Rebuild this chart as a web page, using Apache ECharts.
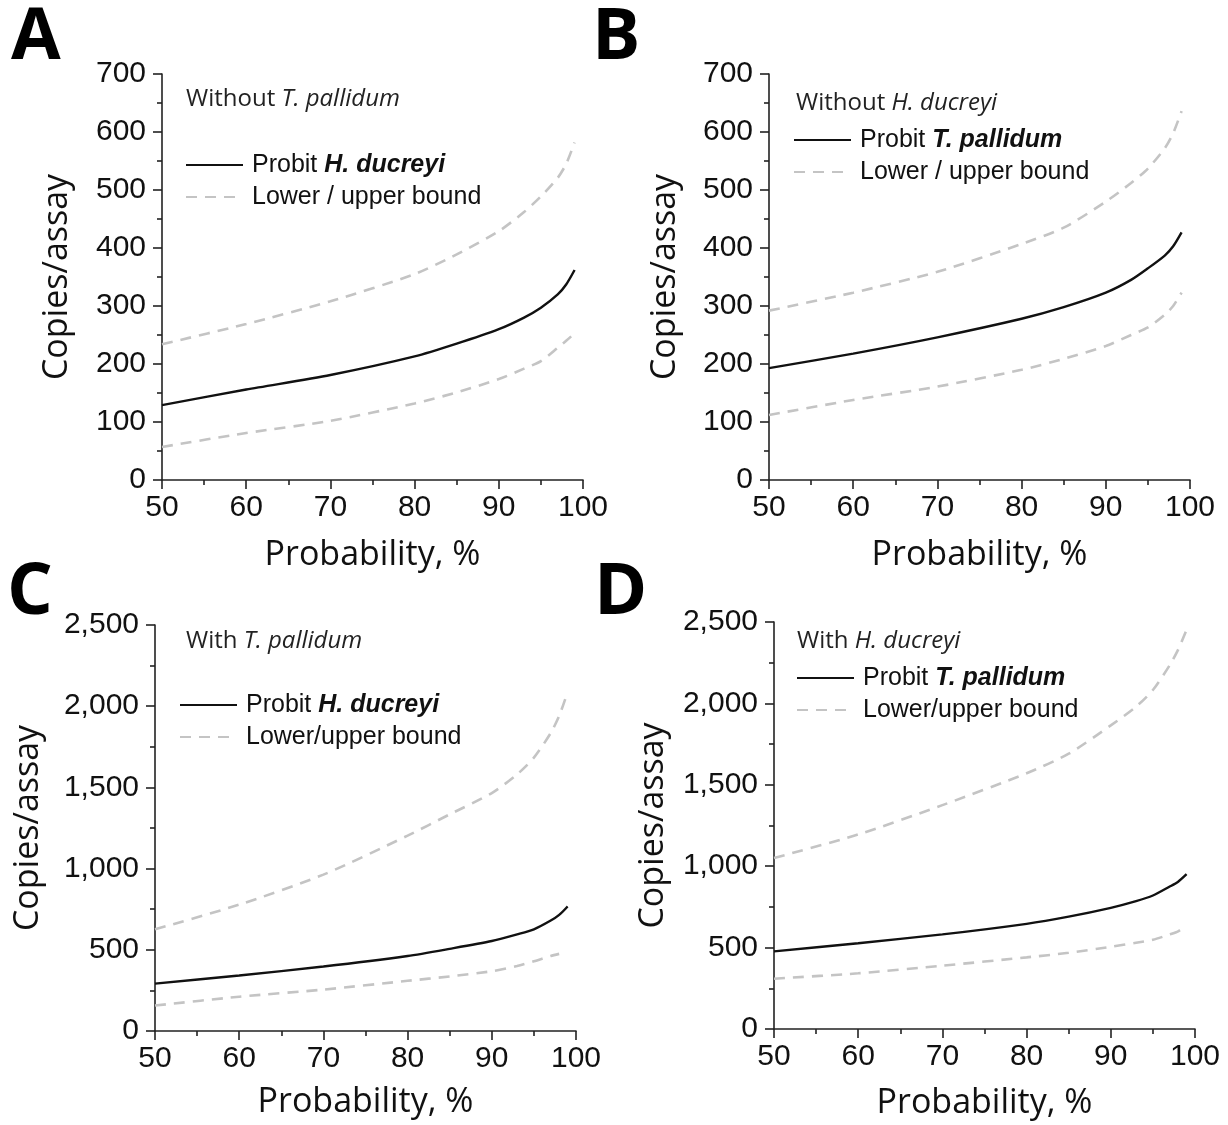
<!DOCTYPE html>
<html>
<head>
<meta charset="utf-8">
<script src="https://cdn.jsdelivr.net/npm/echarts@6/dist/echarts.min.js"></script>
<style>
	html, body { margin: 0; padding: 0; background: #fff; }
	#chart { width: 1228px; height: 1125px; }
</style>
</head>
<body>
<div id="chart"></div>
<script>
// probability (%) at which each curve was read
var probX = [50, 60, 70, 80, 85, 90, 93, 95, 97, 98, 99];

// A: H. ducreyi without T. pallidum
var probitA = [129, 156, 181, 213, 235, 260, 280, 297, 320, 337, 362];
var upperA = [234, 269, 308, 355, 389, 429, 462, 489, 521, 545, 582];
var lowerA = [57, 81, 102, 132, 151, 174, 192, 205, 228, 240, 253];

// B: T. pallidum without H. ducreyi
var probitB = [193, 218, 246, 278, 298, 323, 345, 365, 387, 403, 427];
var upperB = [292, 323, 359, 407, 435, 480, 512, 537, 572, 598, 636];
var lowerB = [112, 138, 161, 190, 209, 231, 250, 263, 285, 300, 323];

// C: H. ducreyi with T. pallidum
var probitC = [292, 342, 397, 462, 506, 554, 595, 626, 680, 715, 767];
var upperC = [626, 778, 963, 1203, 1334, 1465, 1580, 1683, 1835, 1940, 2086];
var lowerC = [157, 211, 255, 309, 336, 368, 400, 429, 462, 475];

// D: T. pallidum with H. ducreyi
var probitD = [477, 527, 581, 646, 690, 744, 785, 820, 875, 905, 951];
var upperD = [1050, 1195, 1375, 1571, 1691, 1865, 1980, 2082, 2235, 2330, 2452];
var lowerD = [309, 342, 389, 440, 468, 505, 530, 548, 581, 600, 635];

var yMaxTop = 700, yStepTop = 100;
var yMaxBottom = 2500, yStepBottom = 500;

var panelLetters = ['A', 'B', 'C', 'D'];
var notes = ['Without {i|T. pallidum}', 'Without {i|H. ducreyi}', 'With {i|T. pallidum}', 'With {i|H. ducreyi}'];
var probitNames = ['Probit H. ducreyi', 'Probit T. pallidum', 'Probit H. ducreyi', 'Probit T. pallidum'];
var boundNames = ['Lower / upper bound', 'Lower / upper bound', 'Lower/upper bound', 'Lower/upper bound'];

var myChart = echarts.init(document.getElementById('chart'));

function pairs(ys) {
	var out = [];
	for (var i = 0; i < ys.length; i++) out.push([probX[i], ys[i]]);
	return out;
}

var grids = [
	{ left: 162, right: 645, top: 74, bottom: 645 },
	{ left: 769, right: 38, top: 74, bottom: 645 },
	{ left: 155, right: 652, top: 625, bottom: 94 },
	{ left: 774, right: 33, top: 622, bottom: 96 }
];
var yNameGaps = [88, 87, 110, 104];
var xNameGaps = [58, 58, 54, 57];
var legendPos = [
	{ left: 185, top: 152 },
	{ left: 793, top: 127 },
	{ left: 179, top: 692 },
	{ left: 796, top: 665 }
];
var notePos = [[186, 101], [796, 105], [186, 643], [797, 643]];
var letterPos = [[11, 38], [592, 38], [7, 593], [594, 593]];

var axisLineStyle = { color: '#222', width: 1.6 };
var labelFont = { fontFamily: 'Liberation Sans', fontSize: 30, color: '#111' };
var nameFont = { fontFamily: 'Open Sans', fontSize: 34, color: '#111' };

var xAxes = [], yAxes = [], series = [], legends = [], graphics = [];

for (var p = 0; p < 4; p++) {
	var isTop = p < 2;
	xAxes.push({
		gridIndex: p,
		type: 'value',
		min: 50,
		max: 100,
		interval: 10,
		name: 'Probability, %',
		nameLocation: 'middle',
		nameGap: xNameGaps[p],
		nameTextStyle: nameFont,
		axisLine: { show: true, lineStyle: axisLineStyle },
		axisTick: { show: true, length: 9, lineStyle: axisLineStyle },
		minorTick: { show: true, splitNumber: 2, length: 5, lineStyle: axisLineStyle },
		splitLine: { show: false },
		axisLabel: Object.assign({ margin: 13 }, labelFont)
	});
	yAxes.push({
		gridIndex: p,
		type: 'value',
		min: 0,
		max: isTop ? yMaxTop : yMaxBottom,
		interval: isTop ? yStepTop : yStepBottom,
		name: 'Copies/assay',
		nameLocation: 'middle',
		nameGap: yNameGaps[p],
		nameTextStyle: nameFont,
		axisLine: { show: true, lineStyle: axisLineStyle },
		axisTick: { show: true, length: 9, lineStyle: axisLineStyle },
		minorTick: { show: true, splitNumber: 2, length: 5, lineStyle: axisLineStyle },
		splitLine: { show: false },
		axisLabel: Object.assign({
			margin: 16,
			formatter: function(v) { return v.toLocaleString('en-US'); }
		}, labelFont)
	});

	var probit = [probitA, probitB, probitC, probitD][p];
	var upper = [upperA, upperB, upperC, upperD][p];
	var lower = [lowerA, lowerB, lowerC, lowerD][p];

	series.push({
		name: probitNames[p],
		type: 'line',
		xAxisIndex: p,
		yAxisIndex: p,
		symbol: 'none',
		smooth: 0.25,
		data: pairs(probit),
		lineStyle: { color: '#111', width: 2.4 },
		itemStyle: { color: '#111' }
	});
	[upper, lower].forEach(function(b) {
		series.push({
			name: boundNames[p],
			type: 'line',
			xAxisIndex: p,
			yAxisIndex: p,
			symbol: 'none',
			smooth: 0.25,
			data: pairs(b),
			lineStyle: { color: '#c4c4c4', width: 2.6, type: [11, 8] },
			itemStyle: { color: '#c4c4c4' }
		});
	});

	legends.push({
		data: [probitNames[p], boundNames[p]],
		orient: 'vertical',
		left: legendPos[p].left,
		top: legendPos[p].top,
		padding: 0,
		itemGap: 6,
		itemWidth: 57,
		itemHeight: 14,
		selectedMode: false,
		itemStyle: { opacity: 0 },
		formatter: function(name) {
			if (name.indexOf('Probit ') === 0) return 'Probit {b|' + name.slice(7) + '}';
			return name;
		},
		textStyle: {
			fontFamily: 'Liberation Sans',
			fontSize: 25,
			lineHeight: 26,
			color: '#111',
			padding: [0, 0, 0, 4],
			rich: {
				b: { fontFamily: 'Liberation Sans', fontSize: 25, fontWeight: 'bold', fontStyle: 'italic', color: '#111' }
			}
		}
	});

	graphics.push({
		type: 'text',
		left: notePos[p][0],
		top: notePos[p][1] - 14,
		style: {
			text: notes[p],
			fontFamily: 'Open Sans',
			fontSize: 24,
			fill: '#222',
			rich: {
				i: { fontFamily: 'Open Sans', fontSize: 24, fontStyle: 'italic', fill: '#222' }
			}
		}
	});
	graphics.push({
		type: 'text',
		x: letterPos[p][0],
		y: letterPos[p][1],
		style: {
			text: panelLetters[p],
			fontFamily: 'Open Sans',
			fontWeight: 'bold',
			fontSize: 72,
			fill: '#000',
			verticalAlign: 'middle'
		}
	});
}

var option = {
	backgroundColor: '#fff',
	animation: false,
	grid: grids,
	xAxis: xAxes,
	yAxis: yAxes,
	legend: legends,
	graphic: graphics,
	series: series
};

myChart.setOption(option);
</script>
</body>
</html>
